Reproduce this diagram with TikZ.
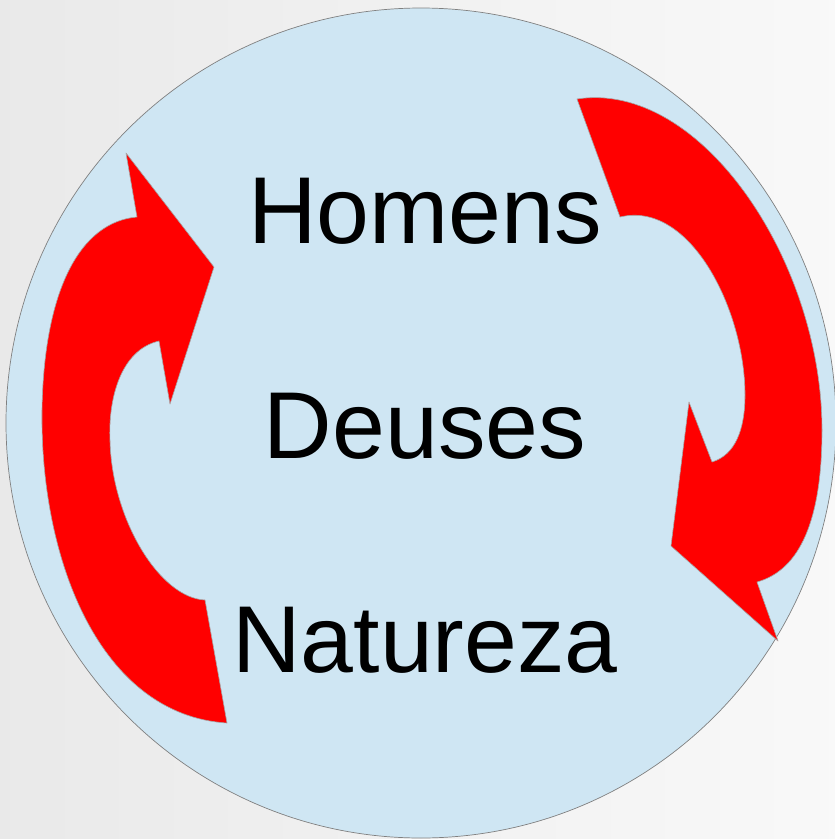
\documentclass[tikz,border=0pt]{standalone}
\usepackage{fontspec}
\setmainfont{Liberation Sans}
\definecolor{sky}{RGB}{207,230,243}
\begin{document}
\begin{tikzpicture}[x=1pt, y=-1pt,
cyclearrow/.style={fill=red, draw=gray!70, line width=0.6pt, line join=round},
word/.style={anchor=base, font=\fontsize{95}{110}\selectfont, inner sep=0pt}]

%Background
\useasboundingbox (0,0) rectangle (835,839);
\shade[left color=gray!17, right color=gray!5] (0,0) rectangle (835,839);

%Circle
\draw[fill=sky, draw=gray, line width=0.7pt] (421,423) circle (415);

%Left arrow
\draw[cyclearrow] (227,723) .. controls (100,715) and (40,560) .. (42,410)
 .. controls (44,290) and (80,222) .. (137,217) -- (126,153) -- (214,267)
 -- (170,404) -- (159,341) .. controls (120,350) and (108,400) .. (110,441)
 .. controls (112,520) and (160,598) .. (205,600) -- cycle;

%Right arrow
\draw[cyclearrow] (577,99) .. controls (700,80) and (822,260) .. (822,430)
 .. controls (822,520) and (800,570) .. (757,582) -- (778,641) -- (671,546)
 -- (689,402) -- (712,462) .. controls (735,455) and (745,430) .. (745,395)
 .. controls (745,310) and (690,200) .. (620,217) -- cycle;

%Words
\node[word] (homens) at (425,243) {Homens};
\node[word] (deuses) at (425,458) {Deuses};
\node[word] (natureza) at (425,672) {Natureza};
\end{tikzpicture}
\end{document}
